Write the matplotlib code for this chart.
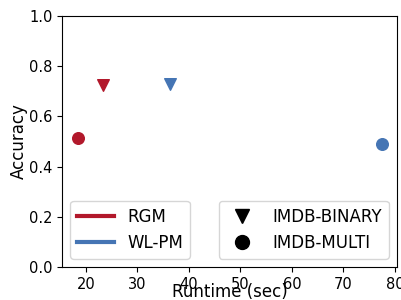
import matplotlib
matplotlib.use("Agg")
import matplotlib.pyplot as plt
from matplotlib.lines import Line2D

# runtime (sec) and accuracy for each method on each dataset
methods = ["RGM", "WL-PM"]
colors = ["#b2182b", "#4575b4"]
datasets = ["IMDB-BINARY", "IMDB-MULTI"]
markers = ["v", "o"]

runtime = {
    "RGM": [23.3, 18.5],
    "WL-PM": [36.4, 77.4],
}
accuracy = {
    "RGM": [0.725, 0.514],
    "WL-PM": [0.729, 0.490],
}

fig = plt.figure(figsize=(4.01, 3.0), dpi=100)
ax = fig.add_axes([0.155, 0.11, 0.835, 0.837])

for m, c in zip(methods, colors):
    for i, mk in enumerate(markers):
        ax.scatter(runtime[m][i], accuracy[m][i], marker=mk, color=c, s=70, zorder=3)

ax.set_ylim(0, 1.0)
ax.set_xlim(15.4, 80.4)
ax.set_xticks([20, 30, 40, 50, 60, 70, 80])
ax.set_yticks([0.0, 0.2, 0.4, 0.6, 0.8, 1.0])
ax.tick_params(labelsize=10.5)
ax.set_xlabel("Runtime (sec)", fontsize=12, labelpad=-6)
ax.set_ylabel("Accuracy", fontsize=12, labelpad=1)

method_handles = [Line2D([0], [0], color=c, lw=3) for c in colors]
leg1 = ax.legend(method_handles, methods, loc="lower left", fontsize=12,
                 handlelength=2.2)
ax.add_artist(leg1)

data_handles = [Line2D([0], [0], marker=mk, color="black", lw=0, markersize=10)
                for mk in markers]
ax.legend(data_handles, datasets, loc="lower right", fontsize=12)

fig.savefig("out.png", dpi=100)
